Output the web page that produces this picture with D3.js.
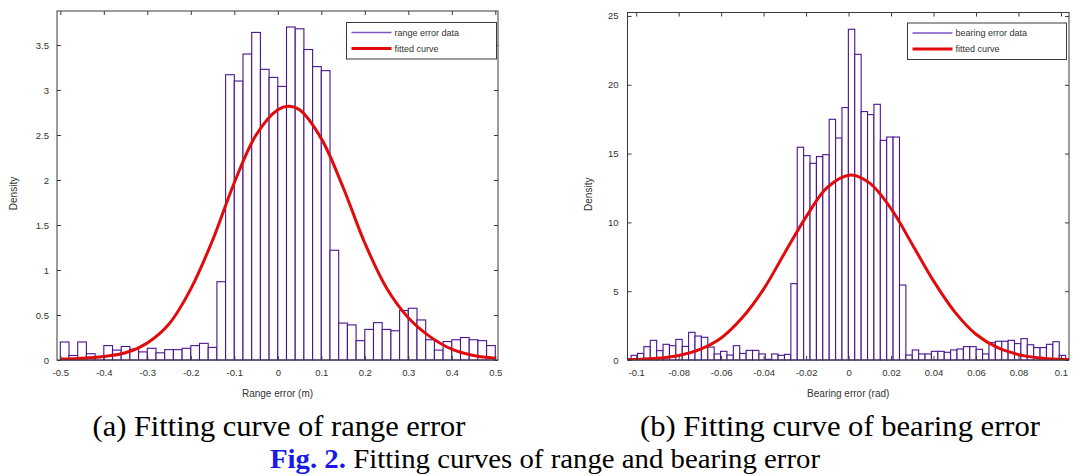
<!DOCTYPE html>
<html>
<head>
<meta charset="utf-8">
<script src="https://cdn.jsdelivr.net/npm/d3@7"></script>
<style>
  html, body { margin: 0; padding: 0; background: #fff; }
  svg { display: block; }
</style>
</head>
<body>
<svg id="chart" width="1090" height="476"></svg>
<script>
// ---------------- DATA ----------------
// (a) range error histogram: 50 bins of width 0.02 starting at -0.5
const rangeBinStart = -0.5;
const rangeBinWidth = 0.02;
const rangeDensity = [0.20, 0.05, 0.20, 0.07, 0.04, 0.16, 0.11, 0.15, 0.12, 0.09,
  0.13, 0.08, 0.115, 0.115, 0.13, 0.16, 0.185, 0.14, 0.87, 3.17,
  3.10, 3.40, 3.64, 3.23, 3.14, 3.04, 3.70, 3.68, 3.45, 3.26,
  3.215, 1.22, 0.41, 0.39, 0.215, 0.34, 0.415, 0.34, 0.325, 0.55,
  0.575, 0.445, 0.225, 0.11, 0.205, 0.225, 0.25, 0.225, 0.215, 0.16];
const rangeCurveX = [-0.5, -0.45, -0.4, -0.35, -0.3, -0.25, -0.2, -0.15, -0.1, -0.05, 0, 0.025,
  0.05, 0.1, 0.15, 0.2, 0.25, 0.3, 0.35, 0.4, 0.45, 0.5];
const rangeCurveY = [0.01, 0.02, 0.04, 0.08, 0.19, 0.40, 0.79, 1.33, 1.97, 2.50, 2.78, 2.82,
  2.78, 2.46, 1.92, 1.30, 0.80, 0.47, 0.26, 0.12, 0.05, 0.02];
const rangeXTicks = [-0.5, -0.4, -0.3, -0.2, -0.1, 0, 0.1, 0.2, 0.3, 0.4, 0.5];
const rangeXTickLabels = ["-0.5", "-0.4", "-0.3", "-0.2", "-0.1", "0", "0.1", "0.2", "0.3", "0.4", "0.5"];
const rangeYTicks = [0, 0.5, 1, 1.5, 2, 2.5, 3, 3.5];
const rangeYTickLabels = ["0", "0.5", "1", "1.5", "2", "2.5", "3", "3.5"];

// (b) bearing error histogram: 68 bins
const bearingBinStart = -0.1024;
const bearingBinWidth = 0.003009;
const bearingDensity = [0.34, 0.48, 0.97, 1.43, 0.68, 1.14, 1.04, 1.50, 0.99, 2.01,
  1.74, 1.65, 0.94, 0.44, 0.63, 0.36, 1.04, 0.48, 0.70, 0.70,
  0.44, 0.05, 0.44, 0.34, 0.41,
  5.55, 15.46, 14.85, 14.29, 14.78, 14.92, 17.49, 16.13, 18.34, 24.03,
  22.21, 18.05, 17.83, 18.58, 15.96, 16.2, 16.2, 5.45,
  0.36, 0.73, 0.44, 0.44, 0.63, 0.63, 0.56, 0.73, 0.80, 0.97,
  0.97, 0.78, 0.44, 1.26, 1.36, 1.36, 1.43, 1.19, 1.55, 1.11,
  0.90, 0.90, 1.14, 1.33, 0.34];
const bearingCurveX = [-0.104, -0.1, -0.09, -0.08, -0.07, -0.06, -0.05, -0.04, -0.03, -0.02, -0.01, 0.001,
  0.01, 0.02, 0.03, 0.04, 0.05, 0.06, 0.07, 0.08, 0.09, 0.1, 0.104];
const bearingCurveY = [0.03, 0.04, 0.12, 0.33, 0.77, 1.60, 3.08, 5.15, 7.80, 10.40, 12.55, 13.45,
  12.85, 11.0, 8.40, 5.75, 3.50, 1.87, 0.91, 0.39, 0.15, 0.05, 0.03];
const bearingXTicks = [-0.1, -0.08, -0.06, -0.04, -0.02, 0, 0.02, 0.04, 0.06, 0.08, 0.1];
const bearingXTickLabels = ["-0.1", "-0.08", "-0.06", "-0.04", "-0.02", "0", "0.02", "0.04", "0.06", "0.08", "0.1"];
const bearingYTicks = [0, 5, 10, 15, 20, 25];
const bearingYTickLabels = ["0", "5", "10", "15", "20", "25"];

// ---------------- DRAW ----------------
const svg = d3.select("#chart");
svg.append("rect").attr("width", 1090).attr("height", 476).attr("fill", "#fff");

const BAR_STROKE = "#4a1390";
const CURVE = "#e10b0b";
const AXIS = "#3a3a3a";
const TXT = "#333";

function panel(cfg) {
  const x = d3.scaleLinear().domain(cfg.xDomain).range([cfg.left, cfg.right]);
  const y = d3.scaleLinear().domain(cfg.yDomain).range([cfg.bottom, cfg.top]);
  const g = svg.append("g");
  const clipId = "clip" + cfg.id;
  g.append("clipPath").attr("id", clipId).append("rect")
    .attr("x", cfg.left).attr("y", cfg.top)
    .attr("width", cfg.right - cfg.left).attr("height", cfg.bottom - cfg.top);

  // bars
  g.append("g").selectAll("rect").data(cfg.density).join("rect")
    .attr("x", (d, i) => x(cfg.binStart + i * cfg.binWidth))
    .attr("width", (d, i) => x(cfg.binStart + (i + 1) * cfg.binWidth) - x(cfg.binStart + i * cfg.binWidth))
    .attr("y", d => y(d))
    .attr("height", d => y(0) - y(d))
    .attr("fill", "#fff")
    .attr("stroke", BAR_STROKE)
    .attr("stroke-width", 1.1);

  // curve
  const line = d3.line()
    .x(d => x(d[0])).y(d => y(d[1]))
    .curve(d3.curveCatmullRom.alpha(0.5));
  g.append("path")
    .attr("clip-path", `url(#${clipId})`)
    .datum(cfg.curveX.map((v, i) => [v, cfg.curveY[i]]))
    .attr("d", line)
    .attr("fill", "none")
    .attr("stroke", CURVE)
    .attr("stroke-width", 3)
    .attr("stroke-linejoin", "round");

  // axes (inward ticks, box style)
  const styleAxis = sel => {
    sel.select(".domain").remove();
    sel.selectAll(".tick line").attr("stroke", AXIS);
    sel.selectAll(".tick text").attr("fill", TXT)
      .style("font-family", "Liberation Sans, Arial, sans-serif").style("font-size", "9.5px");
  };
  g.append("g").attr("transform", `translate(0,${cfg.bottom})`)
    .call(d3.axisBottom(x).tickValues(cfg.xTicks).tickFormat((d, i) => cfg.xTickLabels[i])
      .tickSizeInner(-4).tickSizeOuter(0).tickPadding(9))
    .call(styleAxis);
  g.append("g").attr("transform", `translate(0,${cfg.top})`)
    .call(d3.axisTop(x).tickValues(cfg.xTicks).tickFormat("")
      .tickSizeInner(-4).tickSizeOuter(0))
    .call(styleAxis);
  g.append("g").attr("transform", `translate(${cfg.left},0)`)
    .call(d3.axisLeft(y).tickValues(cfg.yTicks).tickFormat((d, i) => cfg.yTickLabels[i])
      .tickSizeInner(-4).tickSizeOuter(0).tickPadding(cfg.yPad))
    .call(styleAxis);
  g.append("g").attr("transform", `translate(${cfg.right},0)`)
    .call(d3.axisRight(y).tickValues(cfg.yTicks).tickFormat("")
      .tickSizeInner(-4).tickSizeOuter(0))
    .call(styleAxis);

  // frame
  g.append("rect")
    .attr("x", cfg.left).attr("y", cfg.top)
    .attr("width", cfg.right - cfg.left).attr("height", cfg.bottom - cfg.top)
    .attr("fill", "none").attr("stroke", AXIS).attr("stroke-width", 1);

  // axis titles
  g.append("text")
    .attr("x", (cfg.left + cfg.right) / 2).attr("y", cfg.bottom + 37)
    .attr("text-anchor", "middle").attr("fill", TXT)
    .style("font-family", "Liberation Sans, Arial, sans-serif").style("font-size", "10px")
    .text(cfg.xTitle);
  g.append("text")
    .attr("transform", `translate(${cfg.yTitleX},${(cfg.top + cfg.bottom) / 2 + 8}) rotate(-90)`)
    .attr("text-anchor", "middle").attr("fill", TXT)
    .style("font-family", "Liberation Sans, Arial, sans-serif").style("font-size", "10px")
    .text("Density");

  // legend
  const L = cfg.legend;
  const lg = g.append("g");
  lg.append("rect").attr("x", L.x).attr("y", L.y).attr("width", L.w).attr("height", 36.5)
    .attr("fill", "#fff").attr("stroke", AXIS).attr("stroke-width", 1);
  lg.append("line").attr("x1", L.x + 5).attr("x2", L.x + 45)
    .attr("y1", L.y + 10).attr("y2", L.y + 10)
    .attr("stroke", "#7b55c4").attr("stroke-width", 1.5);
  lg.append("line").attr("x1", L.x + 5).attr("x2", L.x + 45)
    .attr("y1", L.y + 26).attr("y2", L.y + 26)
    .attr("stroke", CURVE).attr("stroke-width", 3);
  [cfg.legendLabels[0], cfg.legendLabels[1]].forEach((t, i) => {
    lg.append("text").attr("x", L.x + 48).attr("y", L.y + 10 + i * 16 + 3)
      .attr("fill", TXT)
      .style("font-family", "Liberation Sans, Arial, sans-serif").style("font-size", "9px")
      .text(t);
  });
}

panel({
  id: "a", left: 57, right: 498, top: 11, bottom: 360,
  xDomain: [-0.5076, 0.5062], yDomain: [0, 3.878],
  binStart: rangeBinStart, binWidth: rangeBinWidth, density: rangeDensity,
  curveX: rangeCurveX, curveY: rangeCurveY,
  xTicks: rangeXTicks, xTickLabels: rangeXTickLabels,
  yTicks: rangeYTicks, yTickLabels: rangeYTickLabels, yPad: 8,
  xTitle: "Range error (m)", yTitleX: 17,
  legend: { x: 346.5, y: 22.5, w: 150 },
  legendLabels: ["range error data", "fitted curve"]
});

panel({
  id: "b", left: 627.5, right: 1069, top: 12.5, bottom: 360,
  xDomain: [-0.1041, 0.1038], yDomain: [0, 25.25],
  binStart: bearingBinStart, binWidth: bearingBinWidth, density: bearingDensity,
  curveX: bearingCurveX, curveY: bearingCurveY,
  xTicks: bearingXTicks, xTickLabels: bearingXTickLabels,
  yTicks: bearingYTicks, yTickLabels: bearingYTickLabels, yPad: 9,
  xTitle: "Bearing error (rad)", yTitleX: 592,
  legend: { x: 907.5, y: 23, w: 159 },
  legendLabels: ["bearing error data", "fitted curve"]
});

// captions
const serif = "Liberation Serif, Times New Roman, serif";
svg.append("text").attr("x", 279).attr("y", 436).attr("text-anchor", "middle")
  .style("font-family", serif).style("font-size", "30px").attr("fill", "#000")
  .attr("textLength", 373).attr("lengthAdjust", "spacingAndGlyphs")
  .text("(a) Fitting curve of range error");
svg.append("text").attr("x", 840).attr("y", 436).attr("text-anchor", "middle")
  .style("font-family", serif).style("font-size", "30px").attr("fill", "#000")
  .attr("textLength", 400).attr("lengthAdjust", "spacingAndGlyphs")
  .text("(b) Fitting curve of bearing error");
const fig = svg.append("text").attr("x", 545).attr("y", 468).attr("text-anchor", "middle")
  .style("font-family", serif).style("font-size", "27px").attr("fill", "#000")
  .attr("textLength", 550).attr("lengthAdjust", "spacingAndGlyphs");
fig.append("tspan").attr("fill", "#1a1ae6").attr("font-weight", "bold").text("Fig. 2.");
fig.append("tspan").text(" Fitting curves of range and bearing error");
</script>
</body>
</html>
